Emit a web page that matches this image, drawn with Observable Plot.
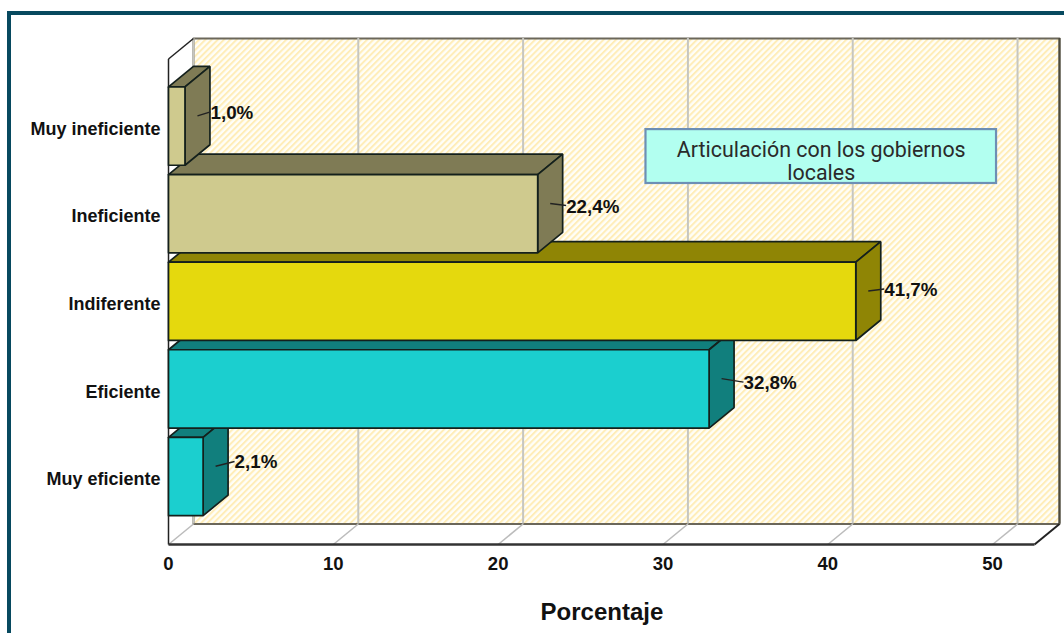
<!DOCTYPE html>
<html>
<head>
<meta charset="utf-8">
<script src="https://cdn.jsdelivr.net/npm/d3@7"></script>
<script src="https://cdn.jsdelivr.net/npm/@observablehq/plot@0.6"></script>
<style>
html,body{margin:0;padding:0;background:#fff;width:1064px;height:633px;overflow:hidden}
#frame{position:absolute;left:7px;top:11px;width:1100px;height:700px;border-left:4px solid #07495f;border-top:4px solid #07495f}
#chart{position:absolute;left:0;top:0}
svg{background:transparent!important}
</style>
</head>
<body>
<div id="frame"></div>
<div id="chart"></div>
<script>
// Data, bottom row first
const categories = ["Muy eficiente", "Eficiente", "Indiferente", "Ineficiente", "Muy ineficiente"];
const values = [2.1, 32.8, 41.7, 22.4, 1.0];
const valueLabels = ["2,1%", "32,8%", "41,7%", "22,4%", "1,0%"];
const xTicks = [0, 10, 20, 30, 40, 50];
const noteLines = ["Articulación con los gobiernos", "locales"];

// Colours per row
const frontColors = ["#1bcfcf", "#1bcfcf", "#e5d90d", "#cfca8e", "#cfca8e"];
const sideColors = ["#117f7d", "#117f7d", "#8f8505", "#7f7b55", "#7f7b55"];

// Scale layout
const xMax = 54.06, yMin = -0.776, yMax = 5;
const depthX = 1.515, depthY = 0.234, halfBar = 0.447;
const wallX = depthX, wallY = yMin + depthY;
const leaderDx = [1.15, 1.33, 0.97, 0.97, 0.79];
const leaderDy = [0.055, -0.04, 0.023, -0.023, 0.045];

const poly = (id, fill, pts) => [...pts, pts[0]].map(([x, y]) => ({id, fill, x, y}));

// Bar faces, painted from the bottom row upward so upper fronts overlap lower tops
const faces = values.flatMap((v, i) => {
  const t = i + halfBar, b = i - halfBar;
  return [
    ...poly(`top${i}`, sideColors[i], [[0, t], [v, t], [v + depthX, t + depthY], [depthX, t + depthY]]),
    ...poly(`side${i}`, sideColors[i], [[v, t], [v + depthX, t + depthY], [v + depthX, b + depthY], [v, b]]),
    ...poly(`front${i}`, frontColors[i], [[0, b], [v, b], [v, t], [0, t]])
  ];
});

const labels = values.map((v, i) => {
  const x1 = v + depthX / 2, y1 = i + depthY / 2;
  return {x1, y1, x2: x1 + leaderDx[i], y2: y1 + leaderDy[i], text: valueLabels[i]};
});

const wall = poly("wall", "url(#hatch)", [[wallX, wallY], [xMax, wallY], [xMax, yMax], [wallX, yMax]]);
const floor = poly("floor", "#fff", [[0, yMin], [xMax - depthX, yMin], [xMax, wallY], [wallX, wallY]]);
const side = poly("leftwall", "#fff", [[0, yMin], [wallX, wallY], [wallX, yMax], [0, yMax - depthY]]);
const note = {x1: 28.97, x2: 50.24, y1: 3.345, y2: 3.96};
const font = "'Liberation Sans', Arial, sans-serif";

const plot = Plot.plot({
  width: 1064, height: 633,
  marginLeft: 168, marginRight: 5, marginTop: 38, marginBottom: 89,
  style: {background: "transparent", fontFamily: font},
  x: {domain: [0, xMax], label: null},
  y: {domain: [yMin, yMax], label: null},
  color: {type: "identity"},
  marks: [
    () => d3.create("svg:defs").html(
      `<pattern id="hatch" patternUnits="userSpaceOnUse" width="4.4" height="4.4" patternTransform="rotate(45)">
         <rect width="4.4" height="4.4" fill="#fffef8"/><rect width="2" height="4.4" fill="#ffedb8"/>
       </pattern>`).node(),
    Plot.line(floor, {x: "x", y: "y", z: "id", fill: "#fff", stroke: null}),
    Plot.line(side, {x: "x", y: "y", z: "id", fill: "#fff", stroke: null}),
    Plot.line(wall, {x: "x", y: "y", z: "id", fill: "url(#hatch)", stroke: "#6b675a", strokeWidth: 2}),
    // grid on the back wall and floor
    Plot.ruleX(xTicks, {x: d => d + depthX, y1: wallY, y2: yMax, stroke: "#c6c6c0", strokeWidth: 2}),
    Plot.link(xTicks, {x1: d => d, y1: yMin, x2: d => d + depthX, y2: wallY, stroke: "#bcbcbc", strokeWidth: 1.6}),
    // left wall outline
    Plot.link([0], {x1: 0, y1: yMax - depthY, x2: depthX, y2: yMax, stroke: "#222", strokeWidth: 1.5}),
    Plot.link([0], {x1: 0, y1: yMin, x2: 0, y2: yMax - depthY, stroke: "#222", strokeWidth: 1.5}),
    // right and bottom floor edges
    Plot.link([0], {x1: xMax - depthX, y1: yMin, x2: xMax, y2: wallY, stroke: "#222", strokeWidth: 2}),
    Plot.link([0], {x1: 0, y1: yMin, x2: xMax - depthX, y2: yMin, stroke: "#333", strokeWidth: 2.5}),
    Plot.ruleX([xMax], {y1: wallY, y2: yMax, stroke: "#4d4a3c", strokeWidth: 2}),
    // bars
    Plot.line(faces, {x: "x", y: "y", z: "id", fill: "fill", stroke: "#14201c", strokeWidth: 1.7, strokeLinejoin: "miter"}),
    // note
    Plot.rect([note], {x1: "x1", x2: "x2", y1: "y1", y2: "y2", fill: "#b2fff0", stroke: "#6d8fb5", strokeWidth: 2.2}),
    Plot.text(noteLines, {
      x: (note.x1 + note.x2) / 2,
      y: (d, i) => 3.73 - i * 0.262,
      text: d => d, fontSize: 21.4, fill: "#2a2a2a", fontFamily: "Roboto, sans-serif", fontWeight: 400, lineAnchor: "middle"
    }),
    // leaders and value labels
    Plot.link(labels, {x1: "x1", y1: "y1", x2: "x2", y2: "y2", stroke: "#222", strokeWidth: 1.4}),
    Plot.text(labels, {
      x: "x2", y: "y2", text: "text", textAnchor: "start", dy: 1,
      fontSize: 18.8, fontWeight: "bold", fill: "#111", fontFamily: font, lineAnchor: "middle"
    }),
    // axes
    Plot.axisY(d3.range(categories.length), {
      tickFormat: i => categories[i], tickSize: 0, tickPadding: 8, label: null,
      fontSize: 18, fontWeight: "bold", fill: "#111", fontFamily: font, dy: 3, textOverflow: null
    }),
    Plot.axisX(xTicks, {
      tickFormat: d => String(d), tickSize: 0, tickPadding: 12, label: null,
      fontSize: 18.5, fontWeight: "bold", fill: "#111", fontFamily: font
    }),
    Plot.text(["Porcentaje"], {
      x: 26.3, y: -1.55, text: d => d,
      fontSize: 24, fontWeight: "bold", fill: "#111", fontFamily: font
    })
  ]
});
document.getElementById("chart").append(plot);
</script>
</body>
</html>
